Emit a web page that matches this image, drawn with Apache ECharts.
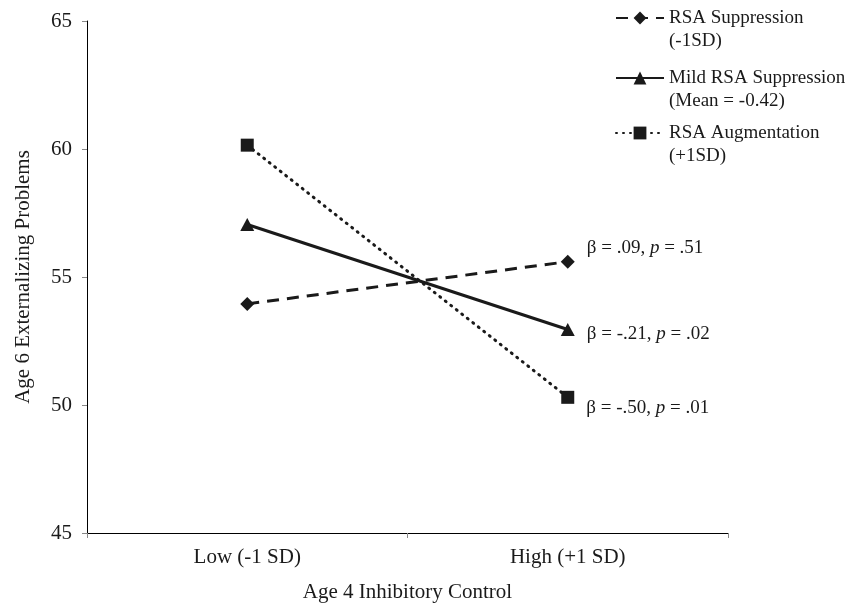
<!DOCTYPE html>
<html>
<head>
<meta charset="utf-8">
<script src="https://cdn.jsdelivr.net/npm/echarts@6/dist/echarts.min.js"></script>
<style>
  html, body { margin: 0; padding: 0; background: #fff; }
  #main { width: 856px; height: 605px; }
</style>
</head>
<body>
<div id="main"></div>
<script>
// categories on the x axis
var categories = ['Low (-1 SD)', 'High (+1 SD)'];

// series names (2 lines each)
var seriesNames = ['RSA Suppression\n(-1SD)', 'Mild RSA Suppression\n(Mean = -0.42)', 'RSA Augmentation\n(+1SD)'];

// values
var suppression = [53.95, 55.6];
var mild = [57.05, 52.95];
var augmentation = [60.15, 50.3];

// simple slope labels
var betas = ['.09', '-.21', '-.50'];
var pvals = ['.51', '.02', '.01'];

// y ticks
var yMin = 45, yMax = 65, yStep = 5;

var font = 'Liberation Serif';
var ink = '#1a1a1a';

function slopeLabel(i, dy) {
  return {
    show: true,
    position: 'right',
    distance: 12,
    offset: [0, dy],
    formatter: '{n|\u03b2 = ' + betas[i] + ', }{i|p}{n| = ' + pvals[i] + '}',
    rich: {
      n: { fontFamily: font, fontSize: 19, color: ink },
      i: { fontFamily: font, fontSize: 19, color: ink, fontStyle: 'italic' }
    }
  };
}

// one legend per series so each row sits where the original has it
// (leading blank line keeps the icon level with the first text line)
function legendAt(name, y) {
  return {
    data: [name],
    left: 615,
    top: y - 34.5,
    padding: 0,
    orient: 'vertical',
    itemWidth: 48,
    itemHeight: 16,
    formatter: function (n) { return '\n' + n; },
    textStyle: { fontFamily: font, fontSize: 19, color: ink, lineHeight: 23 }
  };
}

var chart = echarts.init(document.getElementById('main'));

var option = {
  backgroundColor: '#fff',
  animation: false,
  grid: { left: 87, right: 128, top: 21, bottom: 72, outerBoundsMode: 'none' },
  legend: [
    legendAt(seriesNames[0], 18),
    legendAt(seriesNames[1], 78),
    legendAt(seriesNames[2], 133)
  ],
  xAxis: {
    type: 'category',
    data: categories,
    boundaryGap: true,
    name: 'Age 4 Inhibitory Control',
    nameLocation: 'middle',
    nameGap: 49,
    nameTextStyle: { fontFamily: font, fontSize: 21, color: ink },
    axisLine: { lineStyle: { color: '#000', width: 1 } },
    axisTick: { show: true, length: 5, lineStyle: { color: '#888' } },
    axisLabel: { margin: 14, fontFamily: font, fontSize: 21, color: ink }
  },
  yAxis: {
    type: 'value',
    min: yMin,
    max: yMax,
    interval: yStep,
    name: 'Age 6 Externalizing Problems',
    nameLocation: 'middle',
    nameGap: 53,
    nameTextStyle: { fontFamily: font, fontSize: 21, color: ink },
    axisLine: { show: true, lineStyle: { color: '#000', width: 1 } },
    axisTick: { show: true, length: 5, lineStyle: { color: '#888' } },
    axisLabel: { margin: 15, fontFamily: font, fontSize: 21, color: ink },
    splitLine: { show: false }
  },
  series: [
    {
      name: seriesNames[0],
      type: 'line',
      data: [suppression[0], { value: suppression[1], label: slopeLabel(0, -14) }],
      symbol: 'diamond',
      symbolSize: [14, 14],
      itemStyle: { color: ink },
      lineStyle: { color: ink, width: 3, type: [12, 8] }
    },
    {
      name: seriesNames[1],
      type: 'line',
      data: [mild[0], { value: mild[1], label: slopeLabel(1, 5) }],
      symbol: 'triangle',
      symbolSize: [14, 13],
      itemStyle: { color: ink },
      lineStyle: { color: ink, width: 3 }
    },
    {
      name: seriesNames[2],
      type: 'line',
      data: [augmentation[0], { value: augmentation[1], label: slopeLabel(2, 11) }],
      symbol: 'rect',
      symbolSize: [13, 13],
      itemStyle: { color: ink },
      lineStyle: { color: ink, width: 3, type: [1, 6], cap: 'round' }
    }
  ]
};

chart.setOption(option);
</script>
</body>
</html>
